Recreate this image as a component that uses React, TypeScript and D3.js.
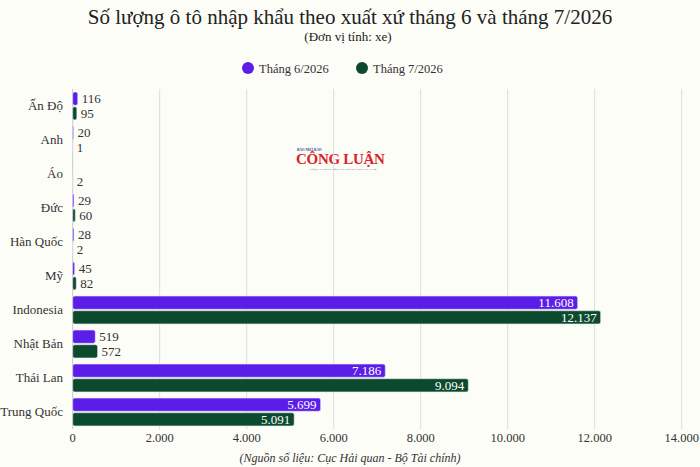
import * as d3 from 'd3';

const categories = ['Ấn Độ', 'Anh', 'Áo', 'Đức', 'Hàn Quốc', 'Mỹ', 'Indonesia', 'Nhật Bản', 'Thái Lan', 'Trung Quốc'];
const seriesNames = ['Tháng 6/2026', 'Tháng 7/2026'];
const june = [116, 20, 0, 29, 28, 45, 11608, 519, 7186, 5699];
const july = [95, 1, 2, 60, 2, 82, 12137, 572, 9094, 5091];
const xTicks = [0, 2000, 4000, 6000, 8000, 10000, 12000, 14000];

const colors = ['#5b1ee8', '#0c4a2e'];
const W = 700;
const H = 467;
const font = 'Liberation Serif, Times New Roman, serif';

const fmt = (v: number) => d3.format(',')(v).replace(/,/g, '.');

export default function App() {
  const x = d3.scaleLinear().domain([0, 14000]).range([72.7, 681.7]);
  const y = d3.scaleBand<string>().domain(categories).range([89, 429]).paddingInner(0.18).paddingOuter(0.09);
  const y2 = d3.scaleBand<number>().domain([0, 1]).range([0, y.bandwidth()]).paddingInner(0.1);

  const series = [june, july];

  return (
    <svg width={W} height={H} style={{ position: 'absolute', left: 0, top: 0, background: '#fdfdf8', fontFamily: font }}>
      <rect width={W} height={H} fill="#fdfdf8" />
      <text x={350} y={24} textAnchor="middle" fontSize={21} fill="#222">
        Số lượng ô tô nhập khẩu theo xuất xứ tháng 6 và tháng 7/2026
      </text>
      <text x={348} y={41} textAnchor="middle" fontSize={13} fill="#222">(Đơn vị tính: xe)</text>

      {seriesNames.map((s, i) => {
        const cx = [248, 362][i];
        return (
          <g key={s}>
            <circle cx={cx} cy={68} r={6} fill={colors[i]} />
            <text x={cx + 11} y={72.5} fontSize={12.5} fill="#333">{s}</text>
          </g>
        );
      })}

      {/* logo */}
      <g>
        <text x={297} y={151} fontSize={3.5} fontWeight="bold" fill="#1b3a7a">BÁO NHÀ BÁO</text>
        <text x={296} y={164} fontSize={15} fontWeight="bold" fill="#d8232a" letterSpacing={-0.3}>CÔNG LUẬN</text>
        <text x={310} y={170} fontSize={2.6} fill="#1b3a7a">CƠ QUAN TRUNG ƯƠNG CỦA HỘI NHÀ BÁO VIỆT NAM</text>
      </g>

      {xTicks.map(t => (
        <g key={t}>
          <line x1={x(t)} x2={x(t)} y1={89} y2={429} stroke={t === 0 ? '#c8c8c8' : '#dcdcdc'} strokeWidth={1} />
          <text x={x(t)} y={442} textAnchor="middle" fontSize={12.5} fill="#333">{fmt(t)}</text>
        </g>
      ))}

      {categories.map((c, ci) => (
        <g key={c} transform={`translate(0,${y(c)})`}>
          <text x={63} y={y.bandwidth() / 2 + 4.5} textAnchor="end" fontSize={13} fill="#333">{c}</text>
          {series.map((vals, si) => {
            const v = vals[ci];
            const by = y2(si)!;
            const bh = y2.bandwidth();
            const w = x(v) - x(0);
            const inside = w > 60;
            return (
              <g key={si}>
                {v > 0 && (
                  <rect x={x(0)} y={by} width={w} height={bh} rx={2} fill={colors[si]} stroke="#e8e4f8" strokeWidth={0.6} />
                )}
                {v > 0 && (
                  <text
                    x={inside ? x(v) - 4 : x(v) + 4}
                    y={by + bh / 2 + 4.5}
                    textAnchor={inside ? 'end' : 'start'}
                    fontSize={13}
                    fill={inside ? '#fff' : '#333'}
                  >
                    {fmt(v)}
                  </text>
                )}
              </g>
            );
          })}
        </g>
      ))}

      <text x={350} y={462} textAnchor="middle" fontSize={12} fontStyle="italic" fill="#333">
        (Nguồn số liệu: Cục Hải quan - Bộ Tài chính)
      </text>
    </svg>
  );
}
